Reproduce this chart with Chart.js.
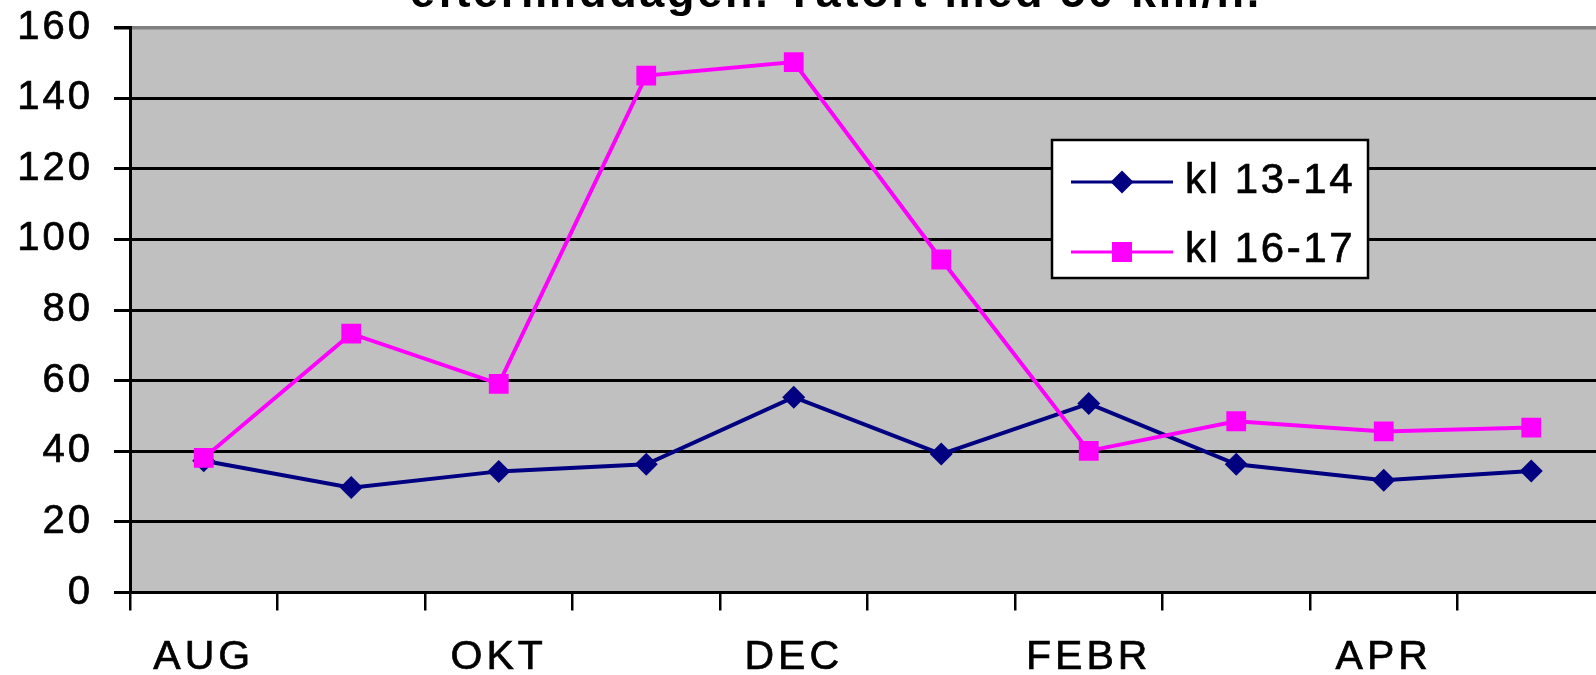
<!DOCTYPE html>
<html>
<head>
<meta charset="utf-8">
<script src="https://cdn.jsdelivr.net/npm/chart.js@4"></script>
<style>
  html, body { margin: 0; padding: 0; background: #fff; overflow: hidden; }
  #wrap { position: relative; width: 1620px; height: 675px; }
</style>
</head>
<body>
<div id="wrap"><canvas id="chart"></canvas></div>
<script>
const months = ["AUG", "SEP", "OKT", "NOV", "DEC", "JAN", "FEBR", "MARS", "APR", "MAJ"];
const kl1314 = [37.3, 29.7, 34.3, 36.3, 55.3, 39.2, 53.5, 36.3, 31.8, 34.4];
const kl1617 = [38.1, 73.3, 59.1, 146.4, 150.2, 94.3, 40.1, 48.5, 45.6, 46.7];
const yTicks = [0, 20, 40, 60, 80, 100, 120, 140, 160];

const FONT = '"Liberation Sans", Arial, sans-serif';
const NAVY = "#000080";
const MAGENTA = "#FF00FF";

// grey plot background; letter spacing for the y labels (drawn before the lines)
// and for the x labels (ticks.z = 1, drawn after the lines)
const plotBg = {
  id: "plotBg",
  beforeDraw(chart) {
    const { ctx, chartArea: a } = chart;
    ctx.letterSpacing = "3px";
    ctx.save();
    ctx.fillStyle = "#C0C0C0";
    ctx.fillRect(a.left, a.top, a.right - a.left, a.bottom - a.top);
    ctx.restore();
  },
  afterDatasetsDraw(chart) {
    chart.ctx.letterSpacing = "4px";
  }
};

function marker(ctx, style, x, y) {
  ctx.beginPath();
  if (style === "rectRot") {
    const r = 11.5;
    ctx.moveTo(x, y - r);
    ctx.lineTo(x + r, y);
    ctx.lineTo(x, y + r);
    ctx.lineTo(x - r, y);
    ctx.closePath();
  } else {
    ctx.rect(x - 10, y - 10, 20, 20);
  }
  ctx.fill();
}

function heavyText(ctx, text, x, y, w) {
  ctx.fillText(text, x, y);
  ctx.lineWidth = w;
  ctx.strokeStyle = ctx.fillStyle;
  ctx.strokeText(text, x, y);
}

// heading line and the boxed legend inside the plot
const decorations = {
  id: "decorations",
  afterDraw(chart) {
    const ctx = chart.ctx;
    ctx.save();
    ctx.letterSpacing = "2.7px";
    ctx.fillStyle = "#000";
    ctx.font = "bold 45px " + FONT;
    ctx.textAlign = "center";
    ctx.textBaseline = "alphabetic";
    ctx.fillText("eftermiddagen. Tätort med 50 km/h.", 836, 7);

    const bx = 1052, by = 140, bw = 316, bh = 138;
    ctx.fillStyle = "#fff";
    ctx.fillRect(bx, by, bw, bh);
    ctx.lineWidth = 2.5;
    ctx.strokeStyle = "#000";
    ctx.strokeRect(bx, by, bw, bh);

    const rows = [182, 252];
    const baselines = [193, 262];
    chart.data.datasets
      .slice()
      .sort((a, b) => a.legendIndex - b.legendIndex)
      .forEach((ds, i) => {
        const y = rows[i];
        ctx.strokeStyle = ds.borderColor;
        ctx.lineWidth = 3;
        ctx.beginPath();
        ctx.moveTo(1071, y);
        ctx.lineTo(1173, y);
        ctx.stroke();
        ctx.fillStyle = ds.pointBackgroundColor;
        marker(ctx, ds.pointStyle, 1122, y);
        ctx.fillStyle = "#000";
        ctx.letterSpacing = "2.6px";
        ctx.font = "42px " + FONT;
        ctx.textAlign = "left";
        ctx.textBaseline = "alphabetic";
        heavyText(ctx, ds.label, 1185, baselines[i], 0.7);
      });
    ctx.restore();
  }
};

new Chart(document.getElementById("chart"), {
  type: "line",
  data: {
    labels: months,
    datasets: [
      {
        label: "kl 16-17",
        legendIndex: 1,
        order: 0,
        data: kl1617,
        borderColor: MAGENTA,
        backgroundColor: MAGENTA,
        pointBackgroundColor: MAGENTA,
        pointBorderColor: MAGENTA,
        borderWidth: 4,
        pointStyle: "rect",
        pointRadius: 14,
        pointBorderWidth: 0,
        tension: 0
      },
      {
        label: "kl 13-14",
        legendIndex: 0,
        order: 1,
        data: kl1314,
        borderColor: NAVY,
        backgroundColor: NAVY,
        pointBackgroundColor: NAVY,
        pointBorderColor: NAVY,
        borderWidth: 4,
        pointStyle: "rectRot",
        pointRadius: 11.5,
        pointBorderWidth: 0,
        tension: 0
      }
    ]
  },
  options: {
    responsive: true,
    maintainAspectRatio: false,
    animation: false,
    layout: { padding: { left: 0, top: 27.5, right: 15, bottom: 0 } },
    plugins: {
      legend: { display: false },
      title: { display: false },
      tooltip: { enabled: false }
    },
    scales: {
      x: {
        offset: true,
        grid: {
          offset: true,
          drawOnChartArea: false,
          color: "#000",
          lineWidth: 2.5,
          tickLength: 18
        },
        border: { color: "#000", width: 3 },
        ticks: {
          z: 1,
          autoSkip: false,
          maxRotation: 0,
          padding: 23,
          color: "#000",
          textStrokeColor: "#000",
          textStrokeWidth: 0.7,
          font: { family: FONT, size: 41 },
          callback: (v, i) => (i % 2 === 0 ? months[i] : "")
        },
        afterFit: (s) => { s.height = 82.5; s.paddingLeft = 0; s.paddingRight = 0; }
      },
      y: {
        min: 0,
        max: 160,
        afterBuildTicks: (s) => { s.ticks = yTicks.map((v) => ({ value: v })); },
        grid: {
          color: (c) => (c.tick && c.tick.value === 160 ? "#808080" : "#000"),
          lineWidth: (c) => (c.tick && c.tick.value === 160 ? 3.5 : 3),
          tickColor: "#000",
          tickLength: 16
        },
        border: { color: "#000", width: 3 },
        ticks: {
          padding: 21,
          color: "#000",
          textStrokeColor: "#000",
          textStrokeWidth: 0.7,
          font: { family: FONT, size: 40 }
        },
        afterFit: (s) => { s.width = 130; s.paddingTop = 0; s.paddingBottom = 0; }
      }
    }
  },
  plugins: [plotBg, decorations]
});
</script>
</body>
</html>
